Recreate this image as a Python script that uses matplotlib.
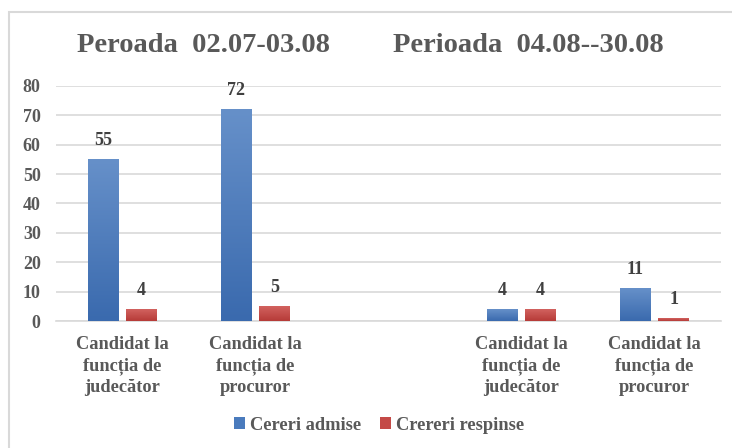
import numpy as np
import matplotlib
matplotlib.use("Agg")
import matplotlib.pyplot as plt
from matplotlib.colors import LinearSegmentedColormap
from matplotlib.patches import Rectangle, Patch

categories = ['Candidat la\nfuncția de\njudecător', 'Candidat la\nfuncția de\nprocuror', '',
              'Candidat la\nfuncția de\njudecător', 'Candidat la\nfuncția de\nprocuror']
admise = [55, 72, np.nan, 4, 11]
respinse = [4, 5, np.nan, 4, 1]
series_names = ['Cereri admise', 'Crereri respinse']
period_titles = ['Peroada  02.07-03.08', 'Perioada  04.08--30.08']

plt.rcParams['font.family'] = ['Liberation Serif', 'DejaVu Serif']
plt.rcParams['font.weight'] = 'bold'

text_gray = '#595959'
blue_cmap = LinearSegmentedColormap.from_list('b', ['#3a6aae', '#6690c9'])
red_cmap = LinearSegmentedColormap.from_list('r', ['#b63b38', '#d2625f'])

fig = plt.figure(figsize=(7.32, 4.48), dpi=100)
ax = fig.add_axes([56 / 732, 1 - 321 / 448, (721 - 56) / 732, (321 - 86) / 448])

x = np.arange(len(categories))
width = 0.226
offset = 0.143
grad = np.linspace(0, 1, 100).reshape(-1, 1)

for vals, off, cmap in [(admise, -offset, blue_cmap), (respinse, offset, red_cmap)]:
    for xi, v in zip(x, vals):
        if np.isnan(v):
            continue
        x0 = xi + off - width / 2
        ax.imshow(grad, extent=[x0, x0 + width, 0, v], origin='lower', cmap=cmap,
                  aspect='auto', zorder=3, interpolation='bilinear')
        ax.annotate(str(int(v)), (xi + off, v), xytext=(0, 13.5), textcoords='offset points',
                    ha='center', va='center', fontsize=13, color='#404040', fontweight='bold')

ax.set_xlim(-0.5, len(categories) - 0.5)
ax.set_ylim(0, 80)
ax.set_yticks(np.arange(0, 81, 10))
ax.set_xticks(x)
ax.set_xticklabels(categories, fontsize=13.2, color=text_gray, linespacing=1.3)
ax.tick_params(axis='both', length=0)
ax.tick_params(axis='x', pad=11)
ax.tick_params(axis='y', pad=11, labelsize=13, labelcolor=text_gray)
ax.grid(axis='y', color='#d9d9d9', linewidth=1.2, zorder=0)
ax.set_axisbelow(True)
for s in ['top', 'right', 'left']:
    ax.spines[s].set_visible(False)
ax.spines['bottom'].set_color('#d9d9d9')
ax.spines['bottom'].set_linewidth(1.2)

fig.text(204 / 732, 1 - 45 / 448, period_titles[0], ha='center', va='center',
         fontsize=20.5, color=text_gray, fontweight='bold')
fig.text(528 / 732, 1 - 45 / 448, period_titles[1], ha='center', va='center',
         fontsize=20.5, color=text_gray, fontweight='bold')

handles = [Patch(facecolor='#4a7bbd', edgecolor='none'), Patch(facecolor='#c44a47', edgecolor='none')]
fig.legend(handles, series_names, loc='center', bbox_to_anchor=(379 / 732, 1 - 425 / 448),
           ncol=2, frameon=False, fontsize=13.3, handlelength=0.6, handleheight=0.6,
           handletextpad=0.3, columnspacing=1.0, labelcolor=text_gray)

fig.patches.append(Rectangle((9 / 732, -0.1), 1.2, 1 - 12 / 448 + 0.1, transform=fig.transFigure,
                             fill=False, edgecolor='#d9d9d9', linewidth=1.5))

fig.savefig('out.png', dpi=100)
